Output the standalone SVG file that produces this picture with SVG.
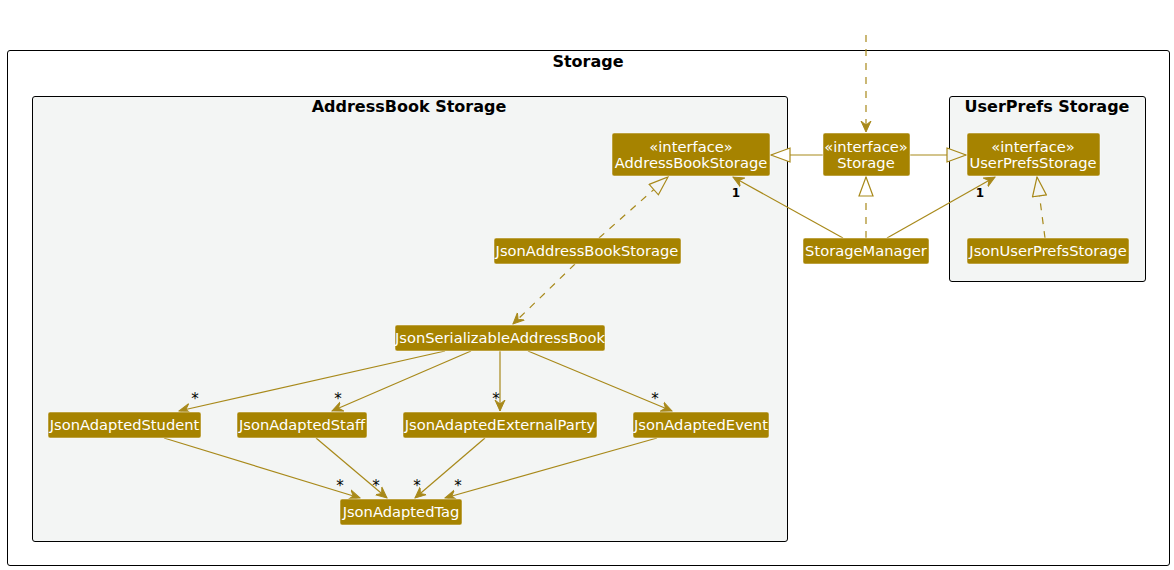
<svg xmlns="http://www.w3.org/2000/svg" width="1174" height="570" viewBox="0 0 1174 570">
  <style>
    .pkg { stroke: #000; stroke-width: 1; }
    .ptitle { font-family: "DejaVu Sans", sans-serif; font-weight: bold; font-size: 16px; fill: #000; text-anchor: middle; }
    .node rect { fill: #A68300; stroke: #FFFFFF; stroke-width: 0.5; }
    .node text { font-family: "DejaVu Sans", sans-serif; font-size: 14.7px; fill: #FFFFFF; text-anchor: middle; }
    .edge { stroke: #A8891A; stroke-width: 1.2; fill: none; }
    .dash { stroke-dasharray: 7 7; }
    .mult { font-family: "DejaVu Sans", sans-serif; font-weight: bold; font-size: 12px; fill: #000; text-anchor: middle; }
    .star { font-family: "DejaVu Sans", sans-serif; font-size: 15px; fill: #000; text-anchor: middle; }
  </style>
  <defs>
    <marker id="open" viewBox="0 0 12 12" refX="11" refY="6" markerWidth="12" markerHeight="12" markerUnits="userSpaceOnUse" orient="auto">
      <path d="M0,1 L11,6 L0,11 L4,6 Z" fill="#A8891A" stroke="#A8891A" stroke-width="1"/>
    </marker>
    <marker id="tri" viewBox="0 0 22 16" refX="20" refY="8" markerWidth="22" markerHeight="16" markerUnits="userSpaceOnUse" orient="auto">
      <path d="M1,1 L20,8 L1,15 Z" fill="#FFFFFF" stroke="#A8891A" stroke-width="1.2"/>
    </marker>
    <marker id="triG" viewBox="0 0 22 16" refX="20" refY="8" markerWidth="22" markerHeight="16" markerUnits="userSpaceOnUse" orient="auto">
      <path d="M1,1 L20,8 L1,15 Z" fill="#F3F5F4" stroke="#A8891A" stroke-width="1.2"/>
    </marker>
  </defs>

  <rect width="1174" height="570" fill="#FFFFFF"/>

  <!-- packages -->
  <g id="pkg-storage">
    <rect class="pkg" x="7.5" y="50.5" width="1162" height="515" rx="2.5" fill="#FFFFFF"/>
    <text class="ptitle" x="588" y="67">Storage</text>
  </g>
  <g id="pkg-addressbook">
    <rect class="pkg" x="32.5" y="96.5" width="755" height="445" rx="2.5" fill="#F3F5F4"/>
    <text class="ptitle" x="409" y="112">AddressBook Storage</text>
  </g>
  <g id="pkg-userprefs">
    <rect class="pkg" x="949.5" y="96.5" width="196" height="185" rx="2.5" fill="#F3F5F4"/>
    <text class="ptitle" x="1047" y="112">UserPrefs Storage</text>
  </g>

  <!-- connectors -->
  <g id="connectors">
    <line class="edge dash" x1="866" y1="35" x2="866" y2="132" marker-end="url(#open)"/>
    <line class="edge" x1="823" y1="155" x2="771" y2="155" marker-end="url(#tri)"/>
    <line class="edge" x1="910" y1="155" x2="966" y2="155" marker-end="url(#triG)"/>
    <line class="edge dash" x1="866" y1="238" x2="866" y2="177" marker-end="url(#tri)"/>
    <line class="edge" x1="843" y1="238" x2="733" y2="177" marker-end="url(#open)"/>
    <line class="edge" x1="887" y1="238" x2="995" y2="177" marker-end="url(#open)"/>
    <line class="edge dash" x1="1045" y1="238" x2="1037" y2="177" marker-end="url(#triG)"/>
    <line class="edge dash" x1="599" y1="238" x2="668" y2="177" marker-end="url(#triG)"/>
    <line class="edge dash" x1="575" y1="264" x2="513" y2="324" marker-end="url(#open)"/>
    <line class="edge" x1="445" y1="351" x2="179" y2="411" marker-end="url(#open)"/>
    <line class="edge" x1="471" y1="351" x2="332" y2="411" marker-end="url(#open)"/>
    <line class="edge" x1="500" y1="351" x2="500" y2="411" marker-end="url(#open)"/>
    <line class="edge" x1="528" y1="351" x2="672" y2="411" marker-end="url(#open)"/>
    <line class="edge" x1="164" y1="438" x2="360" y2="498" marker-end="url(#open)"/>
    <line class="edge" x1="316" y1="438" x2="387" y2="498" marker-end="url(#open)"/>
    <line class="edge" x1="485" y1="438" x2="415" y2="498" marker-end="url(#open)"/>
    <line class="edge" x1="657" y1="438" x2="445" y2="498" marker-end="url(#open)"/>

    <text class="mult" x="736" y="197">1</text>
    <text class="mult" x="980" y="197">1</text>
    <text class="star" x="195" y="404">*</text>
    <text class="star" x="338" y="404">*</text>
    <text class="star" x="496" y="404">*</text>
    <text class="star" x="655" y="404">*</text>
    <text class="star" x="340" y="491">*</text>
    <text class="star" x="376" y="491">*</text>
    <text class="star" x="417" y="491">*</text>
    <text class="star" x="458" y="491">*</text>
  </g>

  <!-- nodes -->
  <g id="AddressBookStorage" class="node">
    <rect x="612" y="133" width="158" height="43" rx="2"/>
    <text x="691" y="152">«interface»</text>
    <text x="691" y="168">AddressBookStorage</text>
  </g>
  <g id="Storage" class="node">
    <rect x="823" y="133" width="87" height="43" rx="2"/>
    <text x="866" y="152">«interface»</text>
    <text x="866" y="168">Storage</text>
  </g>
  <g id="UserPrefsStorage" class="node">
    <rect x="967" y="133" width="133" height="43" rx="2"/>
    <text x="1033" y="152">«interface»</text>
    <text x="1033" y="168">UserPrefsStorage</text>
  </g>
  <g id="JsonAddressBookStorage" class="node">
    <rect x="494" y="238" width="187" height="26" rx="2"/>
    <text x="587" y="256">JsonAddressBookStorage</text>
  </g>
  <g id="StorageManager" class="node">
    <rect x="803" y="238" width="126" height="26" rx="2"/>
    <text x="866" y="256">StorageManager</text>
  </g>
  <g id="JsonUserPrefsStorage" class="node">
    <rect x="967" y="238" width="162" height="26" rx="2"/>
    <text x="1048" y="256">JsonUserPrefsStorage</text>
  </g>
  <g id="JsonSerializableAddressBook" class="node">
    <rect x="395" y="325" width="210" height="26" rx="2"/>
    <text x="500" y="343">JsonSerializableAddressBook</text>
  </g>
  <g id="JsonAdaptedStudent" class="node">
    <rect x="48" y="412" width="153" height="26" rx="2"/>
    <text x="124.5" y="430">JsonAdaptedStudent</text>
  </g>
  <g id="JsonAdaptedStaff" class="node">
    <rect x="237" y="412" width="130" height="26" rx="2"/>
    <text x="302" y="430">JsonAdaptedStaff</text>
  </g>
  <g id="JsonAdaptedExternalParty" class="node">
    <rect x="403" y="412" width="194" height="26" rx="2"/>
    <text x="500" y="430">JsonAdaptedExternalParty</text>
  </g>
  <g id="JsonAdaptedEvent" class="node">
    <rect x="633" y="412" width="136" height="26" rx="2"/>
    <text x="701" y="430">JsonAdaptedEvent</text>
  </g>
  <g id="JsonAdaptedTag" class="node">
    <rect x="340" y="499" width="122" height="26" rx="2"/>
    <text x="401" y="517">JsonAdaptedTag</text>
  </g>
</svg>
